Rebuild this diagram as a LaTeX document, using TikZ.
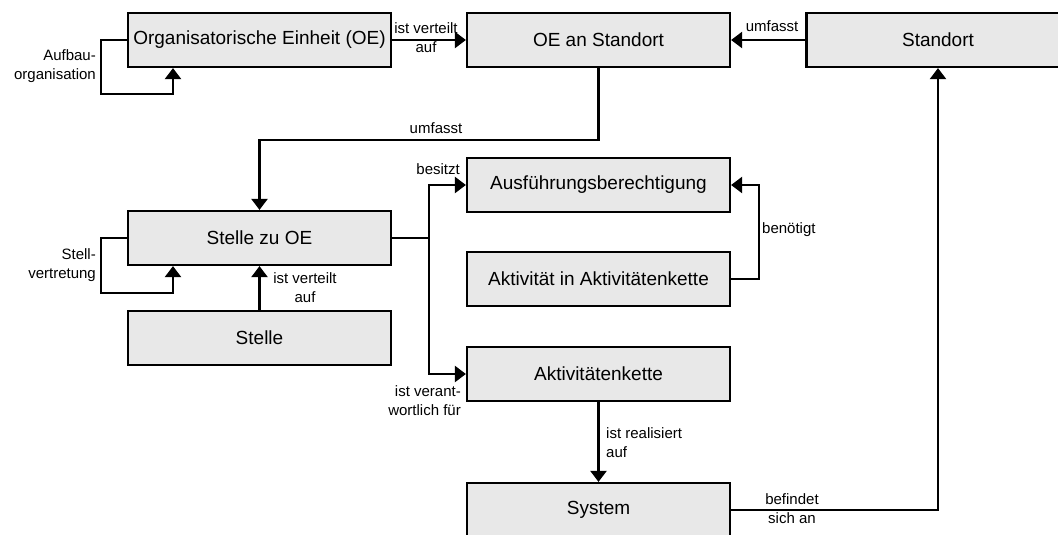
\documentclass[tikz,border=0pt]{standalone}
\usepackage{fontspec}
\setmainfont{Liberation Sans}
\usetikzlibrary{arrows.meta}
\definecolor{boxfill}{HTML}{E8E8E8}
\tikzset{
  box/.style={draw=black, line width=2.2pt, fill=boxfill, minimum width=263pt, minimum height=54pt, inner sep=0pt, font=\fontsize{19}{23}\selectfont},
  conn/.style={line width=2.2pt},
  arr/.style={conn, -{Triangle[length=11pt,width=16pt]}},
  lbl/.style={inner sep=0pt, font=\fontsize{15}{19}\selectfont}
}
\begin{document}
\begin{tikzpicture}[x=1pt,y=-1pt]
\useasboundingbox (0,0) rectangle (1058,535);
\clip (0,0) rectangle (1058,535);
% boxes
\node[box] (oe) at (259.5,40) {Organisatorische Einheit (OE)};
\node[box] (oes) at (598.5,40) {OE an Standort};
\node[box] (std) at (938,40) {Standort};
\node[box] (soe) at (259.5,238) {Stelle zu OE};
\node[box] (stelle) at (259.5,338) {Stelle};
\node[box] (ausf) at (598.5,185) {Ausführungsberechtigung};
\node[box] (akt) at (598.5,279) {Aktivität in Aktivitätenkette};
\node[box] (aktk) at (598.5,374) {Aktivitätenkette};
\node[box] (sys) at (598.5,510) {System};
% connectors
\draw[arr] (oe.east) -- (oes.west);
\draw[arr] (std.west) -- (oes.east);
\draw[arr] (oes.south) -- ++(0,72) -| (soe.north);
\draw[arr] (oe.west) -- ++(-26,0) -- ++(0,54) -| ([xshift=-86.5pt]oe.south);
\draw[arr] (soe.west) -- ++(-26,0) -- ++(0,55) -| ([xshift=-86.5pt]soe.south);
\draw[arr] (stelle.north) -- (soe.north |- soe.south);
\coordinate (j) at (429,238);
\draw[conn] (soe.east) -- (j);
\draw[arr] (j) |- (ausf.west);
\draw[arr] (j) |- (aktk.west);
\draw[arr] (akt.east) -- ++(28,0) |- (ausf.east);
\draw[arr] (aktk.south) -- (sys.north);
\draw[arr] (sys.east) -| (std.south);
% labels
\node[lbl, align=center] (l1) at (426,38) {ist verteilt\\auf};
\node[lbl] (l2) at (772,26) {umfasst};
\node[lbl] (l3) at (436,128) {umfasst};
\node[lbl, align=right, anchor=east] (l4) at (96,66) {Aufbau-\\organisation};
\node[lbl, align=right, anchor=east] (l5) at (96,265) {Stell-\\vertretung};
\node[lbl, align=center] (l6) at (305,288) {ist verteilt\\auf};
\node[lbl, anchor=east] (l7) at (460,169) {besitzt};
\node[lbl, align=right, anchor=east] (l8) at (461,401) {ist verant-\\wortlich für};
\node[lbl, anchor=west] (l9) at (762,230) {benötigt};
\node[lbl, align=left, anchor=west] (l10) at (606,443) {ist realisiert\\auf};
\node[lbl, align=center] (l11) at (792,509) {befindet\\sich an};
\end{tikzpicture}
\end{document}
